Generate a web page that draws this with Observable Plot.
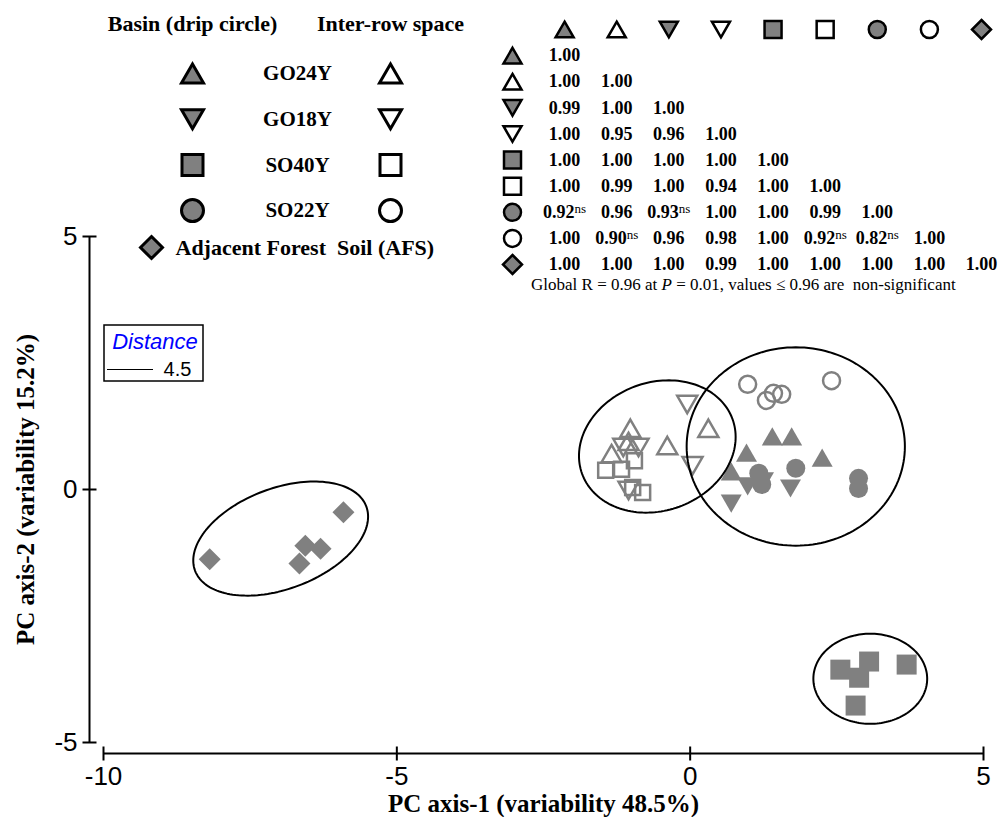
<!DOCTYPE html>
<html>
<head>
<meta charset="utf-8">
<script src="https://cdn.jsdelivr.net/npm/d3@7"></script>
<script src="https://cdn.jsdelivr.net/npm/@observablehq/plot@0.6"></script>
<style>
  html, body { margin: 0; padding: 0; background: #fff; }
  #chart { width: 998px; height: 817px; background: #fff; }
  #chart > svg { display: block; max-width: none; }
</style>
</head>
<body>
<div id="chart"></div>
<script>
// ---------------- DATA ----------------
const groups = ["GO24Y", "GO18Y", "SO40Y", "SO22Y"];
const legendHeaders = ["Basin (drip circle)", "Inter-row space"];
const afsLabel = "Adjacent Forest\u00a0 Soil (AFS)";

// PCA scores [PC1, PC2]
const GO24Y_basin = [[1.40, 1.05], [1.73, 1.05], [0.96, 0.73], [2.25, 0.63], [0.70, 0.36]];
const GO24Y_inter = [[-1.02, 1.21], [-1.34, 0.71], [-0.39, 0.87], [0.31, 1.21], [-1.05, 0.95]];
const GO18Y_basin = [[0.98, 0.06], [1.25, 0.16], [1.71, 0.02], [0.70, -0.28]];
const GO18Y_inter = [[-0.05, 1.68], [0.04, 0.47], [-1.14, 0.83], [-0.88, 0.83], [-1.05, -0.02]];
const SO40Y_basin = [[2.56, -3.56], [3.05, -3.40], [2.88, -3.72], [3.69, -3.46], [2.82, -4.27]];
const SO40Y_inter = [[-1.44, 0.38], [-1.17, 0.40], [-0.95, 0.57], [-0.98, 0.04], [-0.81, -0.06]];
const SO22Y_basin = [[1.17, 0.32], [1.22, 0.10], [1.80, 0.42], [2.87, 0.22], [2.87, 0.02]];
const SO22Y_inter = [[0.98, 2.08], [1.30, 1.76], [1.42, 1.90], [1.56, 1.88], [2.41, 2.15]];
const AFS = [[-5.91, -0.45], [-6.56, -1.11], [-6.30, -1.17], [-6.66, -1.46], [-8.19, -1.38]];

// cluster ellipses (distance 4.5): centre and two semi-axis vectors, in PC units
const ellipseAFS   = {cx: -6.98, cy: -0.97, ux: 1.459, uy: 0.636, vx: 0.302, vy: -0.931};
const ellipseSO40  = {cx: 3.07,  cy: -3.74, ux: 0.97,  uy: 0,     vx: 0,     vy: 0.89};
const ellipseInter = {cx: -0.56, cy: 0.85,  ux: 1.282, uy: 0.541, vx: 0.373, vy: -1.190};
const ellipseBasin = {cx: 1.80,  cy: 0.85,  ux: 1.86,  uy: 0,     vx: 0,     vy: 1.96};

const xTicks = [-10, -5, 0, 5];
const xTickLabels = ["-10", "-5", "0", "5"];
const yTicks = [5, 0, -5];
const yTickLabels = ["5", "0", "-5"];
const xTitle = "PC axis-1 (variability 48.5%)";
const yTitle = "PC axis-2 (variability 15.2%)";

// ANOSIM R matrix (rows/cols: GO24Y-B, GO24Y-I, GO18Y-B, GO18Y-I, SO40Y-B, SO40Y-I, SO22Y-B, SO22Y-I, AFS)
const anosimR = [
  ["1.00"],
  ["1.00", "1.00"],
  ["0.99", "1.00", "1.00"],
  ["1.00", "0.95", "0.96", "1.00"],
  ["1.00", "1.00", "1.00", "1.00", "1.00"],
  ["1.00", "0.99", "1.00", "0.94", "1.00", "1.00"],
  ["0.92ns", "0.96", "0.93ns", "1.00", "1.00", "0.99", "1.00"],
  ["1.00", "0.90ns", "0.96", "0.98", "1.00", "0.92ns", "0.82ns", "1.00"],
  ["1.00", "1.00", "1.00", "0.99", "1.00", "1.00", "1.00", "1.00", "1.00"]
];
const footnoteParts = ["Global R = 0.96 at ", "P", " = 0.01, values \u2264 0.96 are\u00a0 non-significant"];
const distanceTitle = "Distance";
const distanceValue = "4.5";

// ---------------- SYMBOLS ----------------
const mk = f => ({ draw(ctx, size) { f(ctx, Math.sqrt(size / Math.PI)); } });
const triUp = mk((c, r) => { const h = r * Math.sqrt(3) / 2; c.moveTo(0, -h); c.lineTo(r, h); c.lineTo(-r, h); c.closePath(); });
const triDown = mk((c, r) => { const h = r * Math.sqrt(3) / 2; c.moveTo(0, h); c.lineTo(r, -h); c.lineTo(-r, -h); c.closePath(); });
const square = mk((c, r) => { c.moveTo(-r, -r); c.lineTo(r, -r); c.lineTo(r, r); c.lineTo(-r, r); c.closePath(); });
const diamond = mk((c, r) => { c.moveTo(0, -r); c.lineTo(r, 0); c.lineTo(0, r); c.lineTo(-r, 0); c.closePath(); });
const circle = mk((c, r) => { c.moveTo(r, 0); c.arc(0, 0, r, 0, 2 * Math.PI); c.closePath(); });
const vtick = mk((c, r) => { c.moveTo(0, -r); c.lineTo(0, r); });
const htick = mk((c, r) => { c.moveTo(-r, 0); c.lineTo(r, 0); });

const GRAY = "#808080";
// kinds in matrix order; rs = scatter size, rl = legend size, rm = matrix size
const kinds = [
  {sym: triUp,   filled: true,  rs: 10.5, rl: 11,   rm: 9},
  {sym: triUp,   filled: false, rs: 10,   rl: 11,   rm: 9},
  {sym: triDown, filled: true,  rs: 10.5, rl: 11,   rm: 9},
  {sym: triDown, filled: false, rs: 10,   rl: 11,   rm: 9},
  {sym: square,  filled: true,  rs: 10,   rl: 10.5, rm: 8.5},
  {sym: square,  filled: false, rs: 7.5,  rl: 10.5, rm: 8.5},
  {sym: circle,  filled: true,  rs: 9.5,  rl: 11,   rm: 8.5},
  {sym: circle,  filled: false, rs: 8.5,  rl: 11,   rm: 8.5},
  {sym: diamond, filled: true,  rs: 11,   rl: 11,   rm: 9.5}
];
const seriesData = [GO24Y_basin, GO24Y_inter, GO18Y_basin, GO18Y_inter, SO40Y_basin, SO40Y_inter, SO22Y_basin, SO22Y_inter, AFS];

function ellipsePoints(e, n = 160) {
  return d3.range(n + 1).map(k => {
    const t = 2 * Math.PI * k / n;
    return {x: e.cx + e.ux * Math.cos(t) + e.vx * Math.sin(t), y: e.cy + e.uy * Math.cos(t) + e.vy * Math.sin(t)};
  });
}

const W = 998, H = 817;
const SERIF = "Liberation Serif, Times New Roman, serif";
const SANS = "Liberation Sans, Arial, sans-serif";

// ---------------- MAIN PLOT ----------------
const main = Plot.plot({
  width: W, height: H, margin: 0,
  x: {domain: [-10, 5], range: [103, 983], axis: null},
  y: {domain: [-5, 5], range: [742, 236], axis: null},
  style: {background: "white", overflow: "visible"},
  marks: [
    ...seriesData.map((data, i) => {
      const k = kinds[i];
      return Plot.dot(data, {
        x: d => d[0], y: d => d[1], symbol: k.sym, r: k.rs,
        fill: k.filled ? GRAY : "none", stroke: k.filled ? "none" : GRAY, strokeWidth: 2.5
      });
    }),
    ...[ellipseAFS, ellipseSO40, ellipseInter, ellipseBasin].map(e =>
      Plot.line(ellipsePoints(e), {x: "x", y: "y", stroke: "black", strokeWidth: 2})),
    // x axis
    Plot.ruleY([-5], {x1: -10, x2: 5, dy: 11, stroke: "black", strokeWidth: 2}),
    Plot.dot(xTicks, {x: d => d, y: -5, dy: 11, symbol: vtick, r: 7, stroke: "black", strokeWidth: 2, fill: "none"}),
    Plot.text(xTicks, {x: d => d, y: -5, dy: 34, text: (d, i) => xTickLabels[i], fontSize: 26, fontFamily: SANS, fill: "black"}),
    Plot.text([xTitle], {x: -2.5, y: -5, dy: 61, text: d => d, fontSize: 25, fontWeight: "bold", fontFamily: SERIF, fill: "black"}),
    // y axis
    Plot.ruleX([-10], {y1: -5, y2: 5, dx: -14, stroke: "black", strokeWidth: 2}),
    Plot.dot(yTicks, {x: -10, y: d => d, dx: -14, symbol: htick, r: 7, stroke: "black", strokeWidth: 2, fill: "none"}),
    Plot.text(yTicks, {x: -10, y: d => d, dx: -26, text: (d, i) => yTickLabels[i], textAnchor: "end", fontSize: 26, fontFamily: SANS, fill: "black"}),
    Plot.text([yTitle], {x: -10, y: 0, dx: -78, rotate: -90, text: d => d, fontSize: 25, fontWeight: "bold", fontFamily: SERIF, fill: "black"})
  ]
});

// ---------------- LEGEND + DISTANCE KEY (layout in pixels) ----------------
const LEG = {basinX: 192, labelX: 297, interX: 390, headY: 23, rowY0: 73, rowStep: 45.7,
             afsSymX: 151, afsTextX: 175, afsY: 247};
const BOX = {x1: 104, x2: 203, y1: 325, y2: 381, titleY: 341, lineY: 369, lineX1: 107, lineX2: 153};
const legendSym = (k, x, y) => Plot.dot([0], {x, y, symbol: k.sym, r: k.rl,
  fill: k.filled ? GRAY : "white", stroke: "black", strokeWidth: 3});
const legendMarks = [
  Plot.text([legendHeaders[0]], {x: LEG.basinX, y: LEG.headY, text: d => d, fontSize: 22, fontWeight: "bold", fontFamily: SERIF, fill: "black"}),
  Plot.text([legendHeaders[1]], {x: LEG.interX, y: LEG.headY, text: d => d, fontSize: 22, fontWeight: "bold", fontFamily: SERIF, fill: "black"}),
  Plot.text(groups, {x: LEG.labelX, y: (d, i) => LEG.rowY0 + i * LEG.rowStep, text: d => d, fontSize: 21, fontWeight: "bold", fontFamily: SERIF, fill: "black"}),
  Plot.text([afsLabel], {x: LEG.afsTextX, y: LEG.afsY, text: d => d, textAnchor: "start", fontSize: 22, fontWeight: "bold", fontFamily: SERIF, fill: "black"}),
  legendSym(kinds[8], LEG.afsSymX, LEG.afsY),
  Plot.rect([0], {x1: BOX.x1, x2: BOX.x2, y1: BOX.y1, y2: BOX.y2, fill: "white", stroke: "black", strokeWidth: 1.5}),
  Plot.text([distanceTitle], {x: (BOX.x1 + BOX.x2) / 2 + 1, y: BOX.titleY, text: d => d, fontSize: 22, fontStyle: "italic", fontFamily: SANS, fill: "#0000ff"}),
  Plot.ruleY([BOX.lineY], {x1: BOX.lineX1, x2: BOX.lineX2, stroke: "black", strokeWidth: 1.2}),
  Plot.text([distanceValue], {x: 177, y: BOX.lineY, text: d => d, fontSize: 20, fontFamily: SANS, fill: "black"})
];
groups.forEach((g, i) => {
  const y = LEG.rowY0 + i * LEG.rowStep;
  legendMarks.push(legendSym(kinds[2 * i], LEG.basinX, y));
  legendMarks.push(legendSym(kinds[2 * i + 1], LEG.interX, y));
});
const legend = Plot.plot({
  width: W, height: H, margin: 0,
  x: {type: "identity", axis: null}, y: {type: "identity", axis: null},
  style: {background: "transparent", overflow: "visible"},
  marks: legendMarks
});

// ---------------- ANOSIM MATRIX (column / row grid) ----------------
const cells = [];
anosimR.forEach((row, r) => row.forEach((v, c) => cells.push({col: c + 1, row: r + 1, text: v})));
const matrixMarks = [];
kinds.forEach((k, i) => {
  const style = {symbol: k.sym, r: k.rm, fill: k.filled ? GRAY : "white", stroke: "black", strokeWidth: 2.5};
  matrixMarks.push(Plot.dot([i], {x: i + 1, y: 0, ...style}));   // header
  matrixMarks.push(Plot.dot([i], {x: 0, y: i + 1, ...style}));   // row label
});
matrixMarks.push(Plot.text(cells, {x: "col", y: "row", text: "text", fontSize: 18, fontWeight: "bold", fontFamily: SERIF, fill: "black"}));
matrixMarks.push(Plot.text([footnoteParts.join("")], {x: 4.43, y: 9.77, text: d => d, fontSize: 17, fontFamily: SERIF, fill: "black"}));
const matrix = Plot.plot({
  width: W, height: H, margin: 0,
  x: {domain: [0, 9], range: [512, 981], axis: null},
  y: {domain: [0, 9], range: [29, 264], axis: null},
  style: {background: "transparent", overflow: "visible"},
  marks: matrixMarks
});

// superscript "ns" and italic P
const SVGNS = "http://www.w3.org/2000/svg";
d3.select(matrix).selectAll("text").each(function () {
  const t = this.textContent;
  if (t.endsWith("ns")) {
    this.textContent = "";
    const a = document.createElementNS(SVGNS, "tspan"); a.textContent = t.slice(0, -2); this.appendChild(a);
    const b = document.createElementNS(SVGNS, "tspan"); b.textContent = "ns";
    b.setAttribute("font-size", "13"); b.setAttribute("font-weight", "normal"); b.setAttribute("dy", "-0.4em");
    this.appendChild(b);
  } else if (t.startsWith("Global")) {
    this.textContent = "";
    footnoteParts.forEach((p, i) => {
      const s = document.createElementNS(SVGNS, "tspan"); s.textContent = p;
      if (i === 1) s.setAttribute("font-style", "italic");
      this.appendChild(s);
    });
  }
});

// merge the key and matrix layers into the single chart SVG
[legend, matrix].forEach(src => {
  Array.from(src.childNodes).forEach(n => {
    if (n.nodeName.toLowerCase() !== "style") main.appendChild(n);
  });
});

document.getElementById("chart").appendChild(main);
</script>
</body>
</html>
